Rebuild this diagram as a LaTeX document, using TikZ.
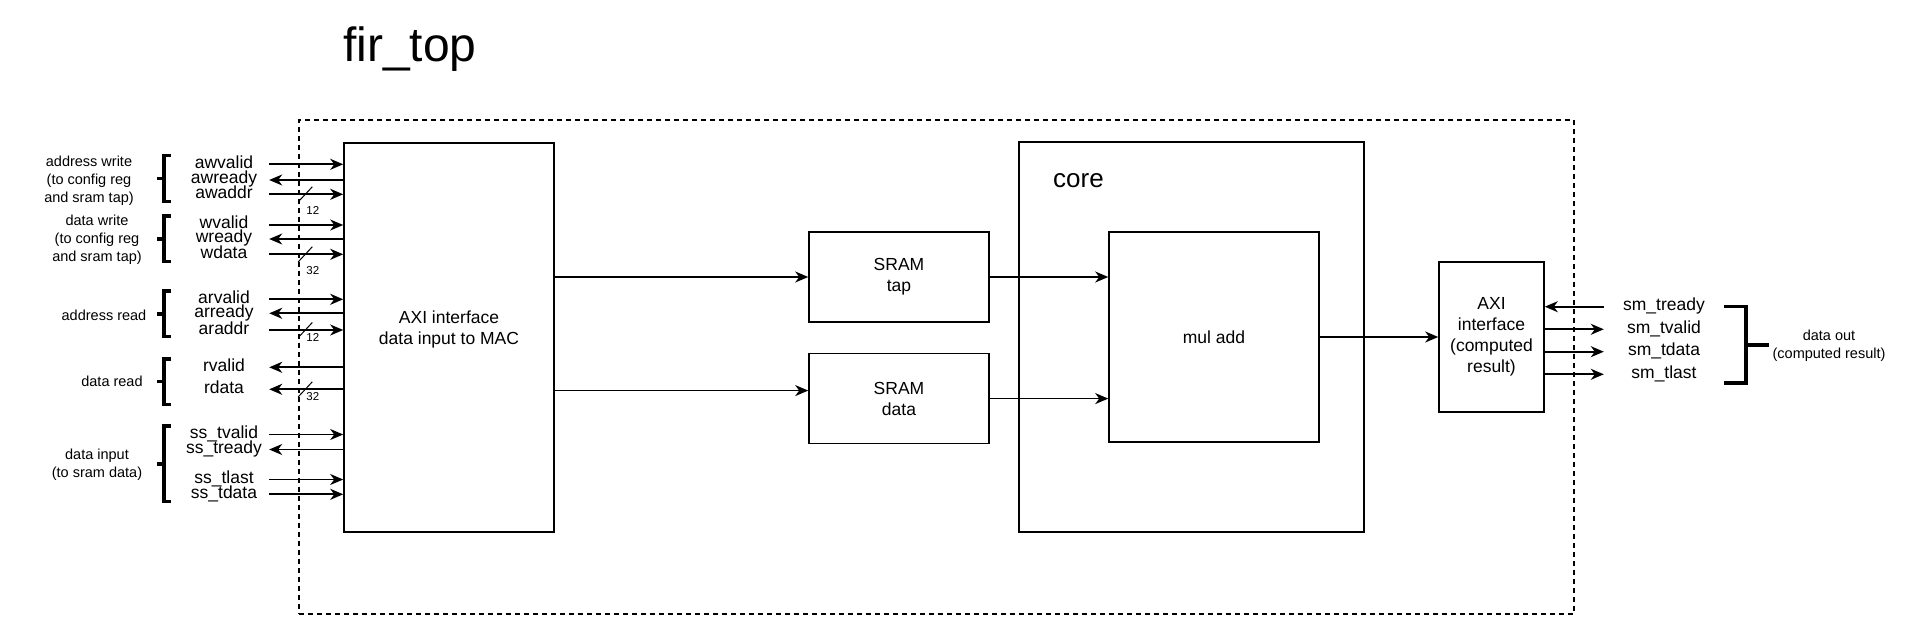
\documentclass[tikz,border=0pt]{standalone}
\usepackage{fontspec}
\setmainfont{Liberation Sans}
\usetikzlibrary{arrows.meta,positioning}
\tikzset{
    %Define standard arrow tip
    >={Stealth[length=13pt,width=11pt,inset=4pt]},
    %Define style for boxes
    block/.style={
           rectangle,
           draw=black, line width=1.6pt,
           inner sep=0pt,
           font={\fontsize{17.5pt}{21pt}\selectfont},
           align=center},
    txt/.style={
           inner sep=0pt,
           font={\fontsize{17.5pt}{21pt}\selectfont},
           align=center},
    outline/.style={
           rectangle,
           draw=black, line width=1.4pt,
           dash pattern=on 5pt off 4pt,
           inner sep=0pt},
    %Define style for signal names
    sigl/.style={
           minimum width=90pt,
           inner sep=0pt,
           text height=12.6pt, text depth=4.6pt,
           font={\fontsize{17.5pt}{21pt}\selectfont}},
    sigr/.style={
           sigl,
           minimum width=120pt},
    grp/.style={
           inner sep=0pt,
           align=center,
           font={\fontsize{14.5pt}{18pt}\selectfont}},
    buslbl/.style={
           inner sep=0pt,
           font={\fontsize{11.5pt}{13pt}\selectfont}},
    % Define arrow style
    wire/.style={line width=1.7pt},
    ain/.style={->},
    aout/.style={<-},
    busmark/.style={line width=1pt},
    brack/.style={line width=3.5pt, line join=miter}
}
\begin{document}
\begin{tikzpicture}[x=1pt,y=-1pt]
\useasboundingbox (0,0) rectangle (1928,639);
% title and frame
\node[anchor=base west, inner sep=0pt, font={\fontsize{48pt}{56pt}\selectfont}] (title) at (343,62) {fir\_top};
\node[outline, minimum width=1275pt, minimum height=494pt] (firtop) at (936.5,367) {};
% blocks
\node[block, minimum width=210pt, minimum height=389pt] (axi) at (449,337.5) {};
\node[txt] (axitxt) at (449,329) {AXI interface\\data input to MAC};
\node[block, minimum width=180pt, minimum height=90pt] (tap) at (899,277) {SRAM\\tap};
\node[block, minimum width=180pt, minimum height=90pt, below=30pt of tap] (sramdata) {SRAM\\data};
\node[block, minimum width=345pt, minimum height=390pt] (core) at (1191.5,337) {};
\node[anchor=base west, inner sep=0pt, font={\fontsize{26pt}{30pt}\selectfont}] (corelbl) at (1053,188) {core};
\node[block, minimum width=210pt, minimum height=210pt] (muladd) at (1214,337) {mul add};
\node[block, minimum width=105pt, minimum height=150pt] (axo) at (1491.5,337) {AXI\\interface\\(computed\\result)};
% internal wires
\draw[wire,->] (axi.east |- tap.west) -- (tap.west);
\draw[wire,->] ([yshift=8pt]sramdata.west -| axi.east) -- ([yshift=8pt]sramdata.west);
\draw[wire,->] (tap.east) -- (tap.east -| muladd.west);
\draw[wire,->] (sramdata.east) -- (sramdata.east -| muladd.west);
\draw[wire,->] (muladd.east) -- (axo.west);
% input side signals
\foreach \nm/\txt/\y/\dir in {awvalid/awvalid/164.3/ain, awready/awready/180/aout, awaddr/awaddr/194.3/ain,
    wvalid/wvalid/225/ain, wready/wready/239/aout, wdata/wdata/254.3/ain,
    arvalid/arvalid/299.3/ain, arready/arready/313.3/aout, araddr/araddr/330/ain,
    rvalid/rvalid/367.3/aout, rdata/rdata/389.3/aout,
    sstvalid/ss\_tvalid/434.5/ain, sstready/ss\_tready/449.5/aout, sstlast/ss\_tlast/479.5/ain, sstdata/ss\_tdata/494.3/ain}
{
  \node[sigl] (\nm) at (224,\y) {\txt};
  \draw[wire,\dir] (\nm.east) -- (\nm.east -| axi.west);
}
% bus widths
\foreach \nm/\w/\dy in {awaddr/12/16, wdata/32/16, araddr/12/7.5, rdata/32/7.5}
{
  \draw[busmark] (\nm.east -| firtop.west) ++(0,7.5) -- ++(14,-15);
  \node[buslbl] (bw\nm) at ([xshift=14.5pt, yshift=-\dy pt]\nm.east -| firtop.west) {\w};
}
% brackets
\foreach \t/\b in {155.7/201.7, 216/261.7, 291/336.7, 359/404.3, 426/501.7}
{
  \draw[brack] (171,\t) -| (164,\b) -- (171,\b);
  \draw[brack] (157,{(\t+\b)/2}) -- (164,{(\t+\b)/2});
}
\node[grp] (gaw) at (89,180.5) {address write\\(to config reg\\and sram tap)};
\node[grp] (gw) at (97,239.5) {data write\\(to config reg\\and sram tap)};
\node[grp] (gar) at (104,315) {address read};
\node[grp] (gr) at (112,381.7) {data read};
\node[grp] (gss) at (97,465) {data input\\(to sram data)};
% output side signals
\foreach \nm/\txt/\y/\dir in {smtready/sm\_tready/306.7/aout, smtvalid/sm\_tvalid/329.3/ain,
    smtdata/sm\_tdata/351.7/ain, smtlast/sm\_tlast/374.3/ain}
{
  \node[sigr] (\nm) at (1664,\y) {\txt};
  \draw[wire,\dir] (\nm.west -| axo.east) -- (\nm.west);
}
\draw[brack] (1724,306.6) -| (1746,383) -- (1724,383);
\draw[brack] (1746,345) -- (1769,345);
\node[grp] (gsm) at (1829,346) {data out\\(computed result)};
\end{tikzpicture}
\end{document}
